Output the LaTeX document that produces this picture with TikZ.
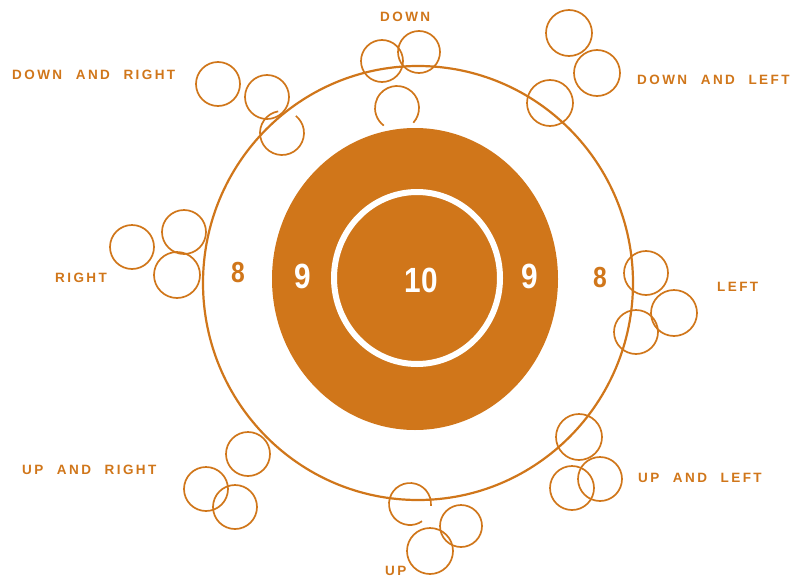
\documentclass[tikz,border=0pt]{standalone}
\usepackage{fontspec}
\newfontfamily\lblfont[LetterSpace=18, WordSpace=2.2]{Liberation Sans}
\newfontfamily\numfont{Liberation Sans}
\definecolor{tgt}{RGB}{208,118,26}

\begin{document}
\begin{tikzpicture}[
  x=1pt, y=-1pt,
  shot/.style={draw=tgt, line width=1.7pt},
  ring/.style={draw=tgt, line width=2.2pt},
  dir/.style={text=tgt, inner sep=0pt, anchor=west, font=\lblfont\bfseries\fontsize{13.5}{13.5}\selectfont},
  score/.style={inner sep=0pt, font=\numfont\bfseries\fontsize{35}{35}\selectfont, xscale=0.85},
]
\useasboundingbox (0,0) rectangle (795,581);

% target
\draw[ring] (418,283) ellipse[x radius=215, y radius=217];
\fill[tgt] (415,279) ellipse[x radius=143, y radius=151];
\draw[white, line width=6pt] (417,278) ellipse[x radius=83, y radius=86];

\node[score, white] (ten) at (421,280) {10};
\node[score, white] (nineL) at (303,276) {9};
\node[score, white] (nineR) at (530,276) {9};
\node[score, tgt, font=\numfont\bfseries\fontsize{29}{29}\selectfont] (eightL) at (238,273) {8};
\node[score, tgt, font=\numfont\bfseries\fontsize{29}{29}\selectfont] (eightR) at (600,278) {8};

% shots
\foreach \x/\y/\r in {382/61/21, 419/52/21,
  218/84/22, 267/97/22,
  569/33/23, 597/73/23, 550/103/23,
  132/247/22, 184/232/22, 177/275/23,
  646/273/22, 674/313/23, 636/332/22,
  248/454/22, 206/489/22, 235/507/22,
  461/526/21, 430/551/23,
  579/437/23, 572/488/22, 600/479/22}
  \draw[shot] (\x,\y) circle[radius=\r];
\draw[shot] (397,108) ++(42:22) arc[start angle=42, end angle=-233, radius=22];
\draw[shot] (282,133) ++(-100:22) arc[start angle=-100, end angle=-411, radius=22];
\draw[shot] (410,504) ++(5:21) arc[start angle=5, end angle=-305, radius=21];

% labels
\node[dir] (down) at (380,17) {DOWN};
\node[dir] (downright) at (12,75) {DOWN AND RIGHT};
\node[dir] (downleft) at (637,80) {DOWN AND LEFT};
\node[dir] (right) at (55,278) {RIGHT};
\node[dir] (left) at (717,287) {LEFT};
\node[dir] (upright) at (22,470) {UP AND RIGHT};
\node[dir] (upleft) at (638,478) {UP AND LEFT};
\node[dir] (up) at (385,571) {UP};
\end{tikzpicture}
\end{document}
